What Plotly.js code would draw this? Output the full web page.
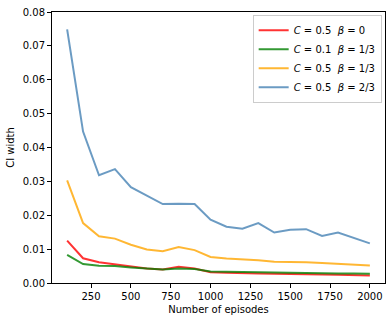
<!DOCTYPE html>
<html>
<head>
<meta charset="utf-8">
<script src="https://cdn.plot.ly/plotly-3.0.1.min.js"></script>
<style>
  html, body { margin: 0; padding: 0; background: #fff; }
  #plotArea { width: 392px; height: 321px; }
</style>
</head>
<body>
<div id="plotArea"></div>
<script>
var episodes = [100, 200, 300, 400, 500, 600, 700, 800, 900, 1000,
                1100, 1200, 1300, 1400, 1500, 1600, 1700, 1800, 1900, 2000];

// C = 0.5, beta = 0
var redVals = [0.0125, 0.0073, 0.0061, 0.0055, 0.0048, 0.0043, 0.0040, 0.0048, 0.0043, 0.0032,
               0.0030, 0.0030, 0.0028, 0.0027, 0.0027, 0.0026, 0.0025, 0.0024, 0.0023, 0.0022];
// C = 0.1, beta = 1/3
var greenVals = [0.0083, 0.0056, 0.0051, 0.0050, 0.0046, 0.0042, 0.0040, 0.0043, 0.0041, 0.0034,
                 0.0033, 0.0032, 0.0031, 0.0030, 0.0030, 0.0030, 0.0029, 0.0028, 0.0028, 0.0027];
// C = 0.5, beta = 1/3
var orangeVals = [0.0303, 0.0177, 0.0138, 0.0131, 0.0113, 0.0099, 0.0094, 0.0106, 0.0097, 0.0077,
                  0.0072, 0.0070, 0.0067, 0.0063, 0.0063, 0.0061, 0.0059, 0.0057, 0.0055, 0.0052];
// C = 0.5, beta = 2/3
var blueVals = [0.0749, 0.0447, 0.0318, 0.0336, 0.0283, 0.0257, 0.0233, 0.0234, 0.0233, 0.0187,
                0.0166, 0.0160, 0.0177, 0.0149, 0.0157, 0.0159, 0.0139, 0.0149, 0.0134, 0.0117];

var names = [
  "<i>C</i> = 0.5  <i>β</i> = 0",
  "<i>C</i> = 0.1  <i>β</i> = 1/3",
  "<i>C</i> = 0.5  <i>β</i> = 1/3",
  "<i>C</i> = 0.5  <i>β</i> = 2/3"
];
var colors = ["rgba(255,0,0,0.8)", "rgba(0,128,0,0.8)", "rgba(255,165,0,0.8)", "rgba(70,130,180,0.8)"];
var series = [redVals, greenVals, orangeVals, blueVals];

var traces = series.map(function (vals, i) {
  return {
    x: episodes,
    y: vals,
    name: names[i],
    type: 'scatter',
    mode: 'lines',
    line: {color: colors[i], width: 2}
  };
});

var axisFont = {family: 'DejaVu Sans', size: 10, color: '#000'};

var layout = {
  width: 392,
  height: 321,
  margin: {l: 52, r: 7, t: 12, b: 38},
  paper_bgcolor: '#fff',
  plot_bgcolor: '#fff',
  font: axisFont,
  showlegend: true,
  legend: {
    x: 0.99, y: 0.99, xanchor: 'right', yanchor: 'top',
    bgcolor: '#fff', bordercolor: '#ccc', borderwidth: 1,
    font: {family: 'DejaVu Sans', size: 10, color: '#000'}
  },
  xaxis: {
    range: [5, 2095],
    tickvals: [250, 500, 750, 1000, 1250, 1500, 1750, 2000],
    ticks: 'outside', ticklen: 4, tickcolor: '#000',
    showgrid: false, zeroline: false,
    showline: true, linecolor: '#000', linewidth: 1, mirror: true,
    title: {text: 'Number of episodes', font: axisFont, standoff: 4}
  },
  yaxis: {
    range: [0, 0.08],
    tickvals: [0, 0.01, 0.02, 0.03, 0.04, 0.05, 0.06, 0.07, 0.08],
    tickformat: '.2f',
    ticks: 'outside', ticklen: 4, tickcolor: '#000',
    showgrid: false, zeroline: false,
    showline: true, linecolor: '#000', linewidth: 1, mirror: true,
    title: {text: 'CI width', font: axisFont, standoff: 6}
  }
};

Plotly.newPlot('plotArea', traces, layout, {displayModeBar: false, staticPlot: true});
</script>
</body>
</html>
